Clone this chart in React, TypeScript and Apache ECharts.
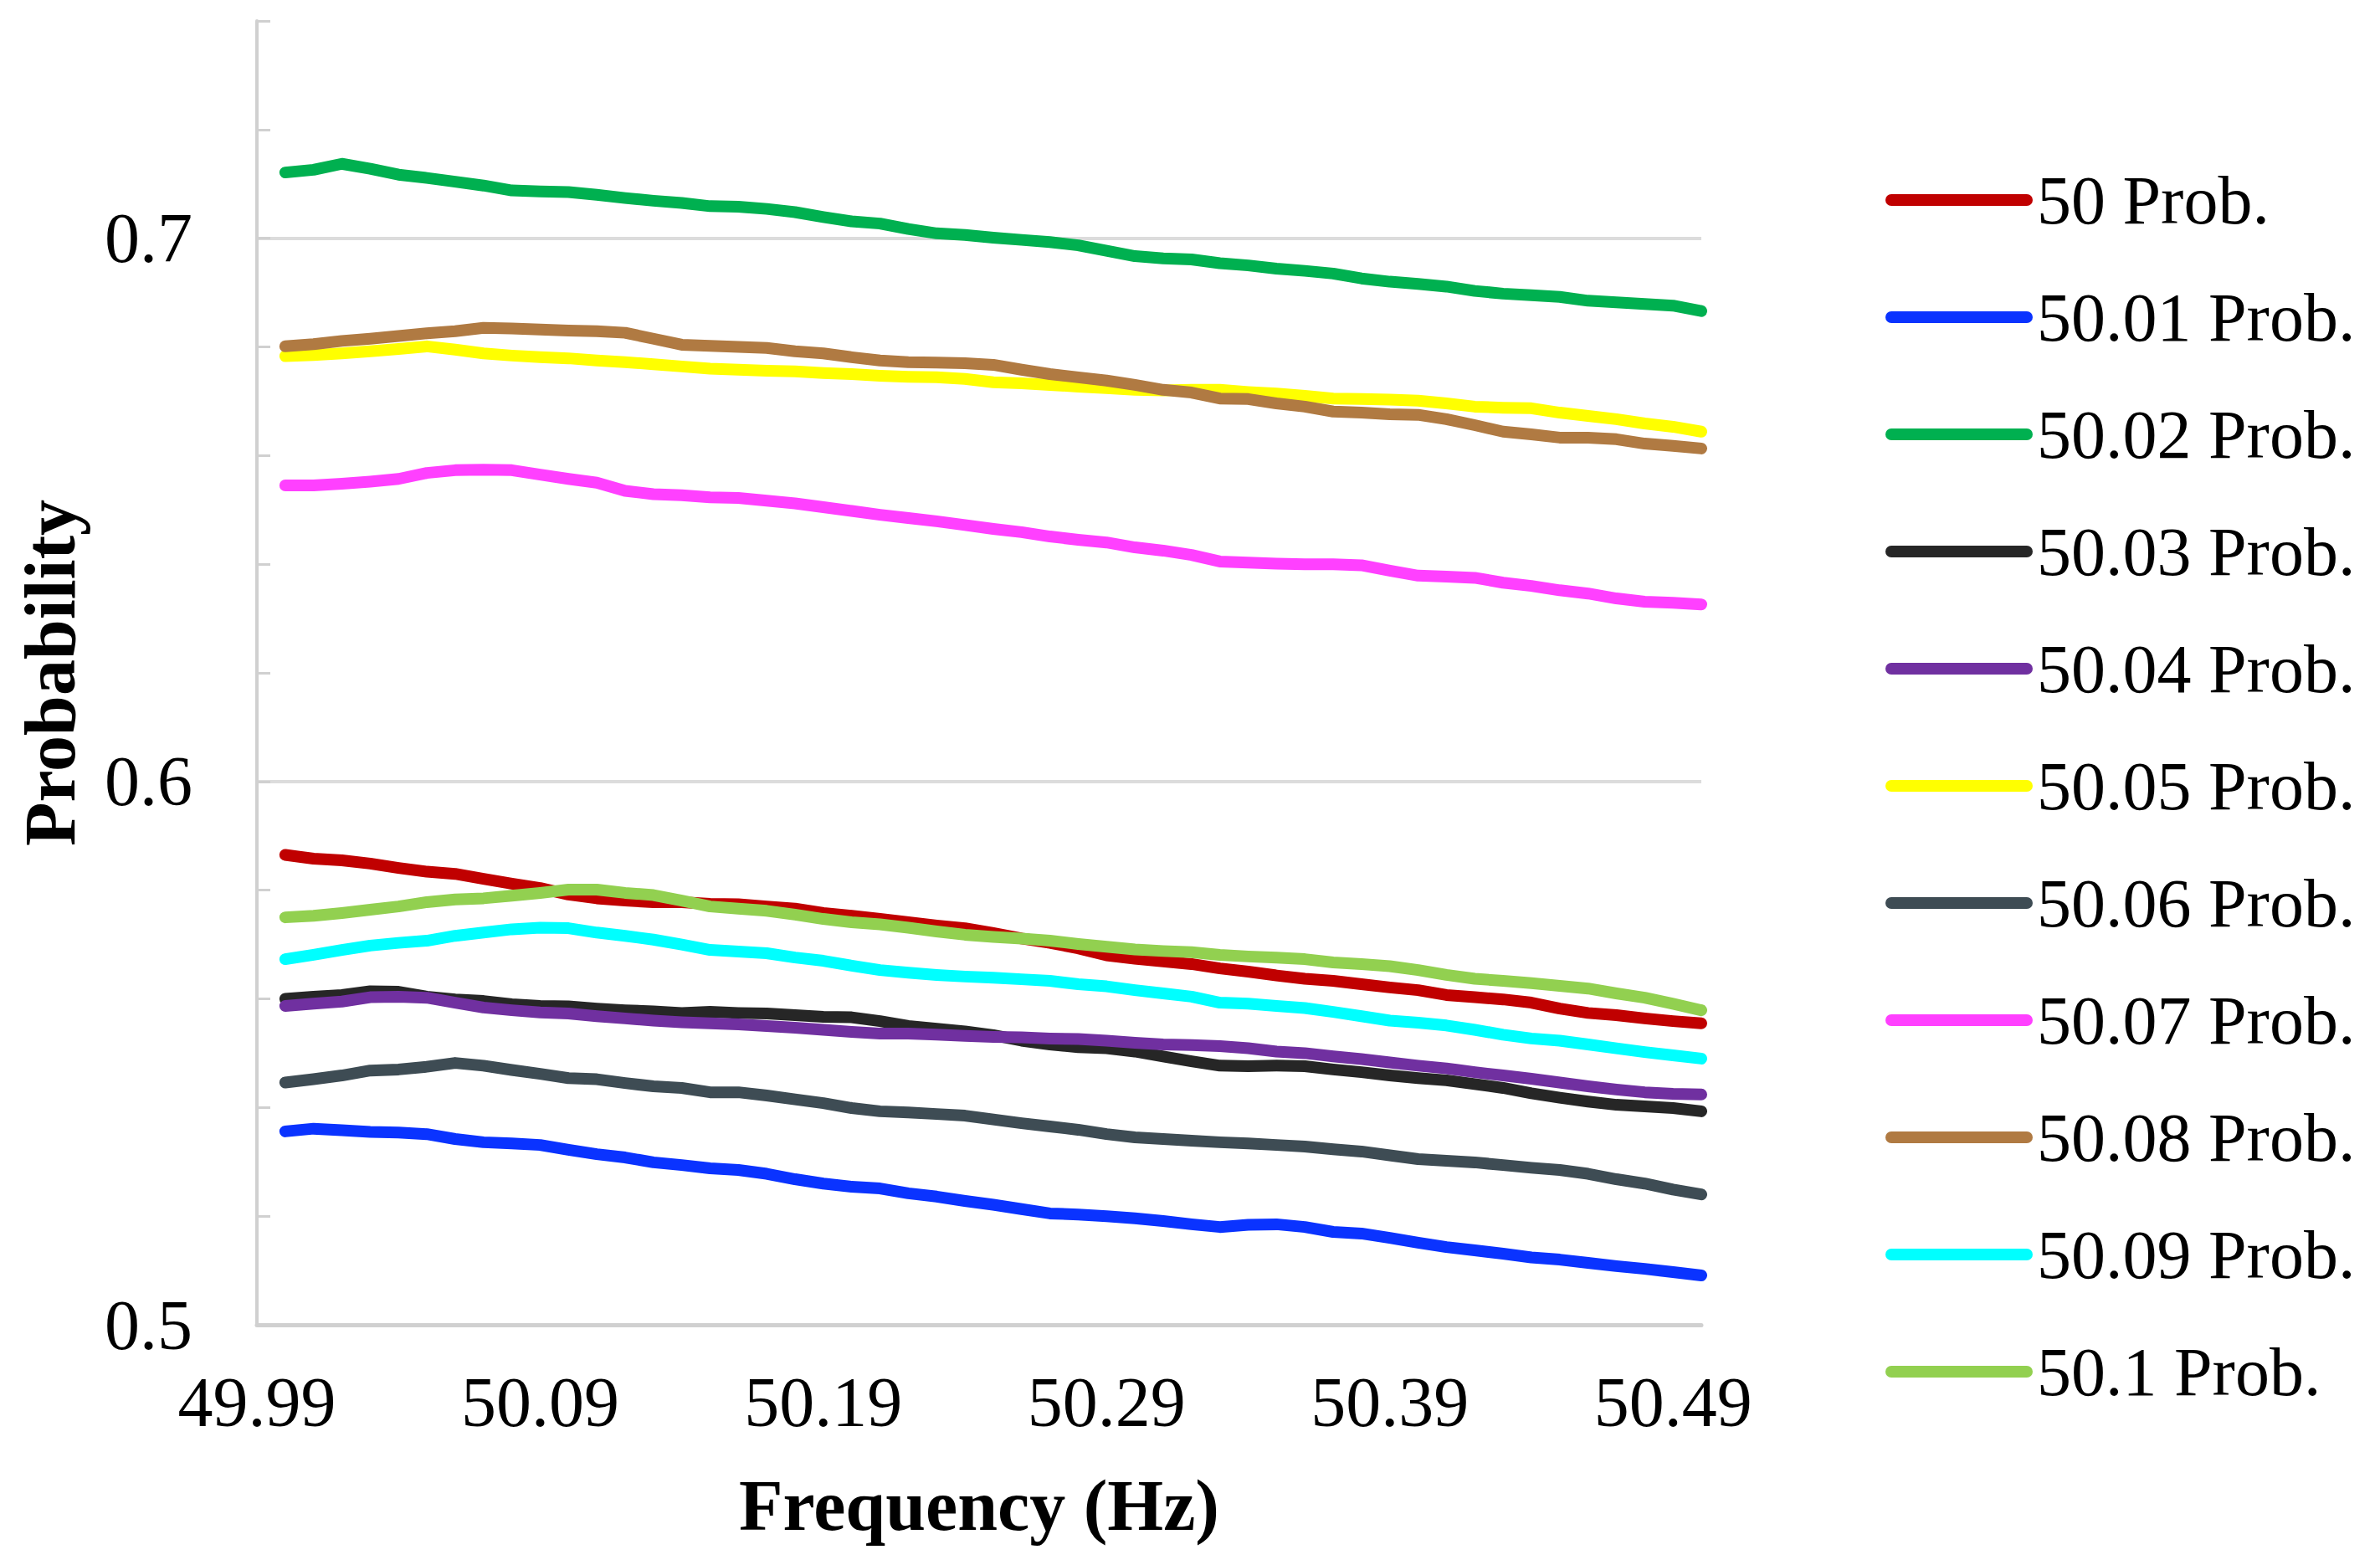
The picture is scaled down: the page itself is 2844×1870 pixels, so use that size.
import React, { useEffect, useRef } from 'react';
import * as echarts from 'echarts';

// x categories (Hz), first one carries no data
const frequencies = [
  '49.99', '50.00', '50.01', '50.02', '50.03', '50.04', '50.05', '50.06', '50.07', '50.08',
  '50.09', '50.10', '50.11', '50.12', '50.13', '50.14', '50.15', '50.16', '50.17', '50.18',
  '50.19', '50.20', '50.21', '50.22', '50.23', '50.24', '50.25', '50.26', '50.27', '50.28',
  '50.29', '50.30', '50.31', '50.32', '50.33', '50.34', '50.35', '50.36', '50.37', '50.38',
  '50.39', '50.40', '50.41', '50.42', '50.43', '50.44', '50.45', '50.46', '50.47', '50.48',
  '50.49', '50.50',
];

const prob50 = [
  0.5865, 0.5858, 0.5855, 0.5849, 0.5841, 0.5834, 0.5830, 0.5821, 0.5812, 0.5804, 0.5792, 0.5785, 0.5781, 0.5778, 0.5778, 0.5775,
  0.5774, 0.5770, 0.5766, 0.5758, 0.5753, 0.5747, 0.5741, 0.5735, 0.5730, 0.5721, 0.5711, 0.5703, 0.5693, 0.5680, 0.5674, 0.5669, 0.5664, 0.5656,
  0.5650, 0.5643, 0.5637, 0.5633, 0.5627, 0.5621, 0.5616, 0.5607, 0.5603, 0.5599, 0.5593, 0.5582, 0.5574, 0.5570, 0.5564, 0.5559, 0.5555,
];
const prob5001 = [
  0.5356, 0.5361, 0.5358, 0.5355, 0.5354, 0.5351, 0.5342, 0.5336, 0.5334, 0.5331, 0.5322, 0.5314, 0.5308, 0.5299, 0.5294, 0.5288,
  0.5285, 0.5278, 0.5268, 0.5260, 0.5254, 0.5251, 0.5242, 0.5236, 0.5228, 0.5221, 0.5213, 0.5205, 0.5203, 0.5200, 0.5196, 0.5191, 0.5185, 0.5180,
  0.5184, 0.5185, 0.5180, 0.5171, 0.5168, 0.5160, 0.5151, 0.5143, 0.5137, 0.5131, 0.5124, 0.5120, 0.5114, 0.5108, 0.5103, 0.5097, 0.5091,
];
const prob5002 = [
  0.7121, 0.7126, 0.7137, 0.7128, 0.7117, 0.7111, 0.7104, 0.7097, 0.7088, 0.7086, 0.7085, 0.7080, 0.7074, 0.7069, 0.7065, 0.7059,
  0.7058, 0.7054, 0.7048, 0.7039, 0.7031, 0.7027, 0.7017, 0.7009, 0.7006, 0.7001, 0.6997, 0.6993, 0.6987, 0.6977, 0.6967, 0.6963, 0.6961, 0.6954,
  0.6950, 0.6944, 0.6940, 0.6935, 0.6926, 0.6920, 0.6916, 0.6911, 0.6903, 0.6898, 0.6895, 0.6892, 0.6885, 0.6882, 0.6879, 0.6876, 0.6866,
];
const prob5003 = [
  0.5600, 0.5604, 0.5607, 0.5614, 0.5613, 0.5604, 0.5599, 0.5596, 0.5590, 0.5587, 0.5586, 0.5582, 0.5579, 0.5577, 0.5574, 0.5576,
  0.5574, 0.5573, 0.5570, 0.5567, 0.5566, 0.5559, 0.5550, 0.5545, 0.5540, 0.5533, 0.5523, 0.5516, 0.5511, 0.5509, 0.5503, 0.5494, 0.5485, 0.5477,
  0.5476, 0.5477, 0.5476, 0.5470, 0.5465, 0.5459, 0.5454, 0.5450, 0.5443, 0.5436, 0.5426, 0.5418, 0.5411, 0.5405, 0.5402, 0.5399, 0.5393,
];
const prob5004 = [
  0.5587, 0.5591, 0.5595, 0.5603, 0.5604, 0.5602, 0.5593, 0.5584, 0.5579, 0.5575, 0.5573, 0.5568, 0.5564, 0.5560, 0.5557, 0.5555,
  0.5553, 0.5550, 0.5547, 0.5543, 0.5539, 0.5536, 0.5536, 0.5534, 0.5532, 0.5530, 0.5529, 0.5527, 0.5526, 0.5523, 0.5519, 0.5516, 0.5515, 0.5513,
  0.5509, 0.5503, 0.5500, 0.5494, 0.5489, 0.5483, 0.5477, 0.5472, 0.5465, 0.5459, 0.5453, 0.5446, 0.5439, 0.5433, 0.5428, 0.5425, 0.5424,
];
const prob5005 = [
  0.6783, 0.6785, 0.6788, 0.6792, 0.6796, 0.6801, 0.6795, 0.6788, 0.6784, 0.6781, 0.6779, 0.6775, 0.6772, 0.6768, 0.6764, 0.6760,
  0.6758, 0.6756, 0.6755, 0.6752, 0.6750, 0.6747, 0.6745, 0.6744, 0.6741, 0.6735, 0.6733, 0.6730, 0.6727, 0.6724, 0.6721, 0.6720, 0.6721, 0.6721,
  0.6717, 0.6714, 0.6710, 0.6705, 0.6704, 0.6703, 0.6701, 0.6696, 0.6690, 0.6688, 0.6687, 0.6679, 0.6673, 0.6667, 0.6659, 0.6653, 0.6644,
];
const prob5006 = [
  0.5446, 0.5452, 0.5459, 0.5468, 0.5470, 0.5475, 0.5482, 0.5477, 0.5469, 0.5462, 0.5454, 0.5452, 0.5445, 0.5439, 0.5436, 0.5428,
  0.5428, 0.5422, 0.5415, 0.5408, 0.5399, 0.5393, 0.5391, 0.5388, 0.5385, 0.5378, 0.5371, 0.5365, 0.5359, 0.5351, 0.5345, 0.5342, 0.5339, 0.5336,
  0.5334, 0.5331, 0.5328, 0.5323, 0.5319, 0.5312, 0.5305, 0.5302, 0.5299, 0.5294, 0.5289, 0.5285, 0.5278, 0.5268, 0.5260, 0.5249, 0.5240,
];
const prob5007 = [
  0.6545, 0.6545, 0.6548, 0.6552, 0.6557, 0.6568, 0.6573, 0.6574, 0.6573, 0.6565, 0.6557, 0.6550, 0.6535, 0.6529, 0.6527, 0.6523,
  0.6522, 0.6517, 0.6512, 0.6505, 0.6498, 0.6491, 0.6485, 0.6479, 0.6472, 0.6465, 0.6459, 0.6451, 0.6445, 0.6440, 0.6431, 0.6425, 0.6417, 0.6405,
  0.6403, 0.6401, 0.6400, 0.6400, 0.6398, 0.6388, 0.6379, 0.6377, 0.6375, 0.6366, 0.6360, 0.6352, 0.6346, 0.6337, 0.6331, 0.6329, 0.6326,
];
const prob5008 = [
  0.6801, 0.6805, 0.6811, 0.6815, 0.6820, 0.6825, 0.6829, 0.6835, 0.6834, 0.6832, 0.6830, 0.6829, 0.6826, 0.6815, 0.6804, 0.6802,
  0.6800, 0.6798, 0.6792, 0.6788, 0.6781, 0.6775, 0.6772, 0.6771, 0.6770, 0.6767, 0.6758, 0.6750, 0.6744, 0.6738, 0.6730, 0.6721, 0.6716, 0.6705,
  0.6704, 0.6696, 0.6690, 0.6681, 0.6679, 0.6676, 0.6675, 0.6667, 0.6656, 0.6644, 0.6639, 0.6633, 0.6633, 0.6630, 0.6622, 0.6618, 0.6613,
];
const prob5009 = [
  0.5673, 0.5681, 0.5690, 0.5698, 0.5703, 0.5707, 0.5716, 0.5722, 0.5728, 0.5731, 0.5730, 0.5722, 0.5716, 0.5709, 0.5700, 0.5690,
  0.5687, 0.5684, 0.5676, 0.5670, 0.5661, 0.5653, 0.5648, 0.5644, 0.5641, 0.5639, 0.5636, 0.5633, 0.5627, 0.5623, 0.5616, 0.5610, 0.5604, 0.5593,
  0.5591, 0.5587, 0.5583, 0.5576, 0.5568, 0.5560, 0.5556, 0.5551, 0.5543, 0.5534, 0.5527, 0.5523, 0.5516, 0.5509, 0.5502, 0.5496, 0.5490,
];
const prob501 = [
  0.5750, 0.5753, 0.5758, 0.5764, 0.5770, 0.5778, 0.5783, 0.5785, 0.5790, 0.5795, 0.5801, 0.5801, 0.5795, 0.5791, 0.5781, 0.5770,
  0.5766, 0.5762, 0.5755, 0.5747, 0.5741, 0.5737, 0.5731, 0.5724, 0.5718, 0.5714, 0.5711, 0.5707, 0.5701, 0.5696, 0.5691, 0.5688, 0.5686, 0.5681,
  0.5678, 0.5676, 0.5673, 0.5667, 0.5664, 0.5660, 0.5653, 0.5644, 0.5637, 0.5633, 0.5629, 0.5624, 0.5619, 0.5610, 0.5602, 0.5591, 0.5579,
];

const seriesNames = [
  '50 Prob.', '50.01 Prob.', '50.02 Prob.', '50.03 Prob.', '50.04 Prob.', '50.05 Prob.',
  '50.06 Prob.', '50.07 Prob.', '50.08 Prob.', '50.09 Prob.', '50.1 Prob.',
];
const seriesValues = [
  prob50, prob5001, prob5002, prob5003, prob5004, prob5005,
  prob5006, prob5007, prob5008, prob5009, prob501,
];
const seriesColors = [
  '#C00000', '#0A33FF', '#00B050', '#262626', '#7030A0', '#FFFF00',
  '#3E4C54', '#FF40FF', '#B07A42', '#00FFFF', '#92D050',
];

const FONT = '"Liberation Serif", "Times New Roman", serif';

const App: React.FC = () => {
  const chartRef = useRef<HTMLDivElement>(null);

  useEffect(() => {
    if (!chartRef.current) return;
    document.body.style.margin = '0';

    const chart = echarts.init(chartRef.current, undefined, { renderer: 'svg' });

    const option: echarts.EChartsOption = {
      animation: false,
      backgroundColor: '#ffffff',
      grid: { left: 307, right: 811, top: 25, bottom: 287 },
      legend: {
        orient: 'vertical',
        left: 2248,
        top: 193,
        itemWidth: 176,
        itemHeight: 14,
        itemGap: 58,
        icon: 'path://M7,0H169A7,7,0,0,1,169,14H7A7,7,0,0,1,7,0Z',
        data: seriesNames,
        textStyle: { fontFamily: FONT, fontSize: 82, lineHeight: 82, color: '#000' },
      },
      xAxis: {
        type: 'category',
        boundaryGap: false,
        data: frequencies,
        name: 'Frequency (Hz)',
        nameLocation: 'middle',
        nameGap: 173,
        nameTextStyle: { fontFamily: FONT, fontSize: 86, fontWeight: 'bold', color: '#000' },
        axisLine: { lineStyle: { color: '#d0d0d0', width: 5 } },
        axisTick: { show: false },
        axisLabel: {
          interval: 9,
          margin: 50,
          fontFamily: FONT,
          fontSize: 84,
          color: '#000',
        },
        splitLine: { show: false },
      },
      yAxis: {
        type: 'value',
        min: 0.5,
        max: 0.74,
        interval: 0.02,
        name: 'Probability',
        nameLocation: 'middle',
        nameGap: 204,
        nameTextStyle: { fontFamily: FONT, fontSize: 86, fontWeight: 'bold', color: '#000' },
        axisLine: { show: true, lineStyle: { color: '#d0d0d0', width: 4 } },
        axisTick: { show: true, inside: true, length: 16, lineStyle: { color: '#d0d0d0', width: 3 } },
        axisLabel: {
          margin: 77,
          fontFamily: FONT,
          fontSize: 84,
          color: '#000',
          formatter: (v: number) => {
            const t = v * 10;
            return Math.abs(t - Math.round(t)) < 1e-6 ? String(Math.round(t) / 10) : '';
          },
        },
        splitLine: {
          show: true,
          showMaxLine: false,
          lineStyle: {
            width: 4,
            color: ['#dcdcdc', 'rgba(0,0,0,0)', 'rgba(0,0,0,0)', 'rgba(0,0,0,0)', 'rgba(0,0,0,0)'],
          },
        },
      },
      series: seriesNames.map((name, i) => ({
        name,
        type: 'line',
        data: [null, ...seriesValues[i]],
        showSymbol: false,
        symbol: 'none',
        color: seriesColors[i],
        lineStyle: { width: 14, color: seriesColors[i], cap: 'round', join: 'round' },
      })),
    };

    chart.setOption(option);

    return () => {
      chart.dispose();
    };
  }, []);

  return <div ref={chartRef} style={{ width: 2844, height: 1870 }} />;
};

export default App;
